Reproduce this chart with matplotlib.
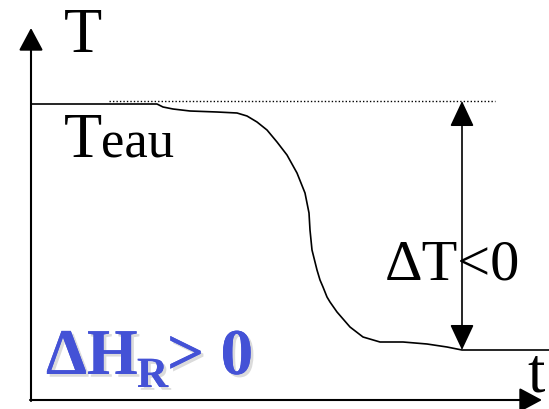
import matplotlib.pyplot as plt
import matplotlib.patheffects as pe

# pixel-like coordinates of the schematic (y grows downward)
curve_t = [31, 157, 163, 173, 190, 217, 237, 247, 257, 267, 277, 287, 297,
           305, 309, 310, 312, 317, 320, 323, 327, 330, 337, 350, 363, 380,
           403, 427, 447, 462, 549]
curve_T = [104, 104, 107, 109, 111, 112, 113, 116, 122, 130, 142, 155, 173,
           193, 213, 230, 250, 270, 280, 287, 297, 302, 312, 327, 337, 342,
           342, 344, 347, 350, 350]

t_eau = 101
ref_t = [109, 495]
delta_x = 462
t_final = 350

origin = (31, 400)
y_axis_top = 28
x_axis_end = 542

fig = plt.figure(figsize=(5.49, 4.09), dpi=100)
ax = fig.add_axes([0, 0, 1, 1])
ax.set_xlim(0, 549)
ax.set_ylim(409, 0)
ax.axis('off')

serif = 'Liberation Serif'

# axes with arrows
axis_arrow = dict(arrowstyle='-|>,head_length=14,head_width=7.5', color='black',
                  lw=1.5, mutation_scale=1, shrinkA=0, shrinkB=0)
ax.annotate('', xy=(origin[0], y_axis_top), xytext=(origin[0], origin[1] + 1),
            arrowprops=axis_arrow)
ax.annotate('', xy=(x_axis_end, origin[1]), xytext=(origin[0] - 1, origin[1]),
            arrowprops=axis_arrow)

# temperature curve
ax.plot(curve_t, curve_T, color='black', lw=1.2, solid_capstyle='butt',
        solid_joinstyle='round')

# dotted reference line at T eau
ax.plot(ref_t, [t_eau, t_eau], color='black', lw=1.0, ls=(0, (1, 1.5)))

# double arrow for delta T
dbl = dict(arrowstyle='<|-|>,head_length=16,head_width=7.5', color='black',
           lw=1.2, mutation_scale=1, shrinkA=0, shrinkB=0)
ax.annotate('', xy=(delta_x, t_eau), xytext=(delta_x, t_final), arrowprops=dbl)

# labels
ax.text(64, 52, 'T', fontsize=45, family=serif, ha='left', va='baseline')
ax.text(64, 157, 'T', fontsize=45, family=serif, ha='left', va='baseline')
ax.text(101, 157, 'eau', fontsize=38, family=serif, ha='left', va='baseline')
ax.text(385, 280, '\u0394T<0', fontsize=42, family=serif, ha='left', va='baseline')
ax.text(527, 392, 't', fontsize=45, family=serif, ha='left', va='baseline')

blue = '#4452d6'
shadow = [pe.withSimplePatchShadow(offset=(2, -2), shadow_rgbFace='#888888', alpha=0.3),
          pe.Normal()]
ax.text(46, 374, '\u0394H', fontsize=47, family=serif, weight='bold', color=blue,
        ha='left', va='baseline', path_effects=shadow)
ax.text(137, 387, 'R', fontsize=31, family=serif, weight='bold', color=blue,
        ha='left', va='baseline', path_effects=shadow)
ax.text(167, 374, '> 0', fontsize=47, family=serif, weight='bold', color=blue,
        ha='left', va='baseline', path_effects=shadow)

fig.savefig('out.png', dpi=100)
